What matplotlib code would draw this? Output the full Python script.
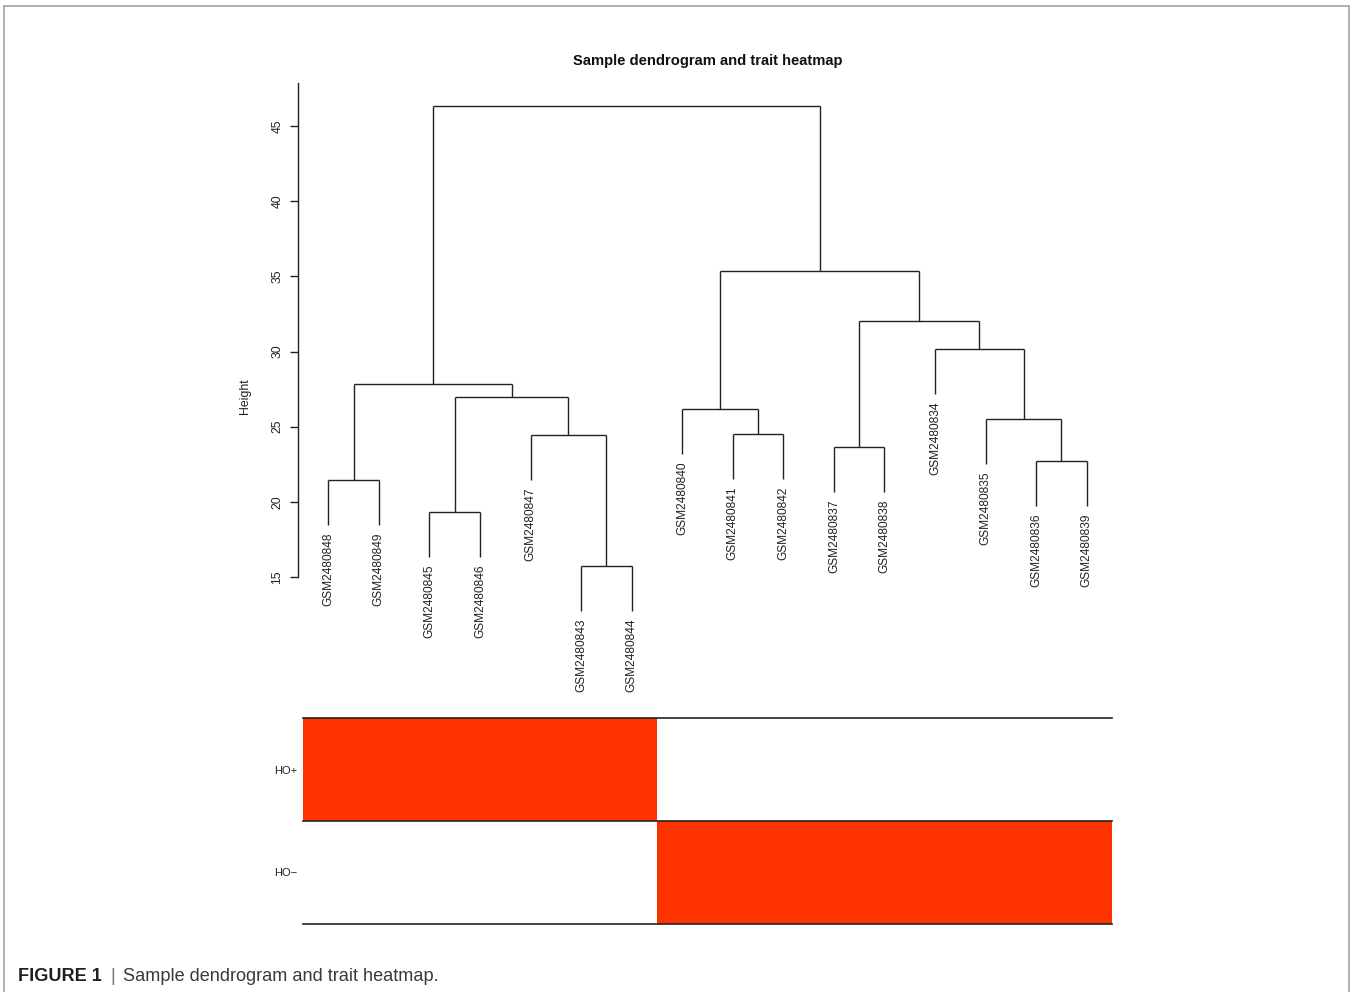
import matplotlib
matplotlib.use("Agg")
import matplotlib.pyplot as plt
from matplotlib.colors import ListedColormap
from matplotlib.lines import Line2D
import numpy as np

plt.rcParams['font.family'] = ['Liberation Sans', 'DejaVu Sans']

# ---------------- data ----------------
leaves = ['GSM2480848', 'GSM2480849', 'GSM2480845', 'GSM2480846', 'GSM2480847',
          'GSM2480843', 'GSM2480844', 'GSM2480840', 'GSM2480841', 'GSM2480842',
          'GSM2480837', 'GSM2480838', 'GSM2480834', 'GSM2480835', 'GSM2480836',
          'GSM2480839']
# merges: (left child, right child, height); ints refer to earlier merges
merge_left = ['GSM2480848', 'GSM2480845', 'GSM2480843', 'GSM2480847', 1, 0,
              'GSM2480841', 'GSM2480840', 'GSM2480837', 'GSM2480836', 'GSM2480835',
              'GSM2480834', 8, 7, 5]
merge_right = ['GSM2480849', 'GSM2480846', 'GSM2480844', 2, 3, 4,
               'GSM2480842', 6, 'GSM2480838', 'GSM2480839', 9,
               10, 11, 12, 13]
merge_height = [21.45, 19.32, 15.73, 24.45, 26.98, 27.84,
                24.51, 26.18, 23.65, 22.72, 25.51,
                30.17, 32.03, 35.36, 46.34]
hang = 3.0
traits = ['HO+', 'HO\u2212']
ho_pos = [1, 1, 1, 1, 1, 1, 1, 0, 0, 0, 0, 0, 0, 0, 0, 0]
ho_neg = [0, 0, 0, 0, 0, 0, 0, 1, 1, 1, 1, 1, 1, 1, 1, 1]
yticks = [15, 20, 25, 30, 35, 40, 45]

# ---------------- figure ----------------
W, H = 1352, 992
fig = plt.figure(figsize=(W / 100, H / 100), dpi=100)

def fx(px):
    return px / W

def fy(py):
    return 1 - py / H

# border
for (x0, y0, x1, y1) in [(4, 6, 1349, 6), (4, 6, 4, 992), (1349, 6, 1349, 992)]:
    fig.add_artist(Line2D([fx(x0), fx(x1)], [fy(y0), fy(y1)], color='#aaaaaa',
                          lw=1.3, transform=fig.transFigure))

# dendrogram axes
left_px, right_px = 303, 1112
top_px, bot_px = 83, 577
ax = fig.add_axes([fx(left_px), fy(bot_px), fx(right_px - left_px), (bot_px - top_px) / H])
ax.set_xlim(0.5, len(leaves) + 0.5)
ax.set_ylim(15, 47.87)

xpos = {name: i + 1 for i, name in enumerate(leaves)}
mx, mh = [], []
def node_x(n):
    return xpos[n] if isinstance(n, str) else mx[n]

for l, r, h in zip(merge_left, merge_right, merge_height):
    xs = []
    for c in (l, r):
        cx = node_x(c)
        if isinstance(c, str):
            cb = h - hang
            ax.plot([cx, cx], [cb, h], color='#222222', lw=1.0, clip_on=False,
                    solid_capstyle='butt')
            ax.text(cx, cb - 0.47, c, rotation=90, ha='center', va='top',
                    fontsize=8.55, color='#222222', clip_on=False)
        else:
            ax.plot([cx, cx], [mh[c], h], color='#222222', lw=1.0, clip_on=False,
                    solid_capstyle='butt')
        xs.append(cx)
    ax.plot([xs[0], xs[1]], [h, h], color='#222222', lw=1.0, clip_on=False,
            solid_capstyle='butt')
    mx.append((xs[0] + xs[1]) / 2)
    mh.append(h)

for s in ['top', 'right', 'bottom']:
    ax.spines[s].set_visible(False)
ax.spines['left'].set_position(('outward', 3.6))
ax.spines['left'].set_color('#222222')
ax.spines['left'].set_linewidth(1.0)
ax.set_xticks([])
ax.set_yticks(yticks)
ax.set_yticklabels([str(t) for t in yticks], rotation=90, va='center')
ax.tick_params(axis='y', length=5.5, width=1.0, pad=5.0, labelsize=8.8,
               colors='#222222')
ax.patch.set_alpha(0)

fig.text(fx(245), fy(396), 'Height', rotation=90, ha='center', va='center',
         fontsize=8.8, color='#222222')
fig.text(fx(708), fy(61), 'Sample dendrogram and trait heatmap', ha='center',
         va='center', fontsize=10.6, fontweight='bold', color='#111111')

# trait heatmap
hm_top, hm_bot = 718, 924
hx = fig.add_axes([fx(left_px), fy(hm_bot), fx(right_px - left_px), (hm_bot - hm_top) / H])
mat = np.array([ho_pos, ho_neg])
cmap = ListedColormap(['white', '#FF3300'])
hx.pcolormesh(np.arange(len(leaves) + 1) + 0.5, np.arange(3), mat, cmap=cmap,
              vmin=0, vmax=1)
hx.set_xlim(0.5, len(leaves) + 0.5)
hx.set_ylim(2, 0)
for yb in [0, 1, 2]:
    hx.axhline(yb, color='#222222', lw=1.2, clip_on=False)
for s in hx.spines.values():
    s.set_visible(False)
hx.set_xticks([])
hx.set_yticks([0.5, 1.5])
hx.set_yticklabels(traits)
hx.tick_params(axis='y', length=0, pad=4.3, labelsize=8.0, colors='#222222')

# caption
fig.text(fx(18), fy(981), 'FIGURE 1', ha='left', va='baseline', fontsize=13.1,
         fontweight='bold', color='#231f20')
fig.text(fx(110), fy(981), '|', ha='left', va='baseline', fontsize=13.1,
         color='#777777')
fig.text(fx(123), fy(981), 'Sample dendrogram and trait heatmap.', ha='left',
         va='baseline', fontsize=13.1, color='#3a3a3a')

fig.savefig('out.png', dpi=100)
